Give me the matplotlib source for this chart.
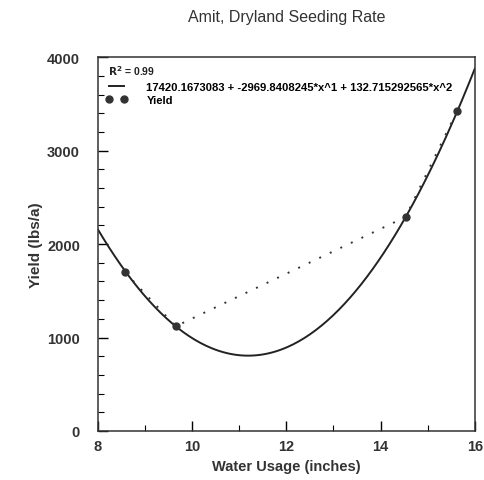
import matplotlib.pyplot as plt
import numpy as np

# water usage (inches) and yield (lbs/a)
water = [8.57, 9.65, 14.53, 15.62]
yield_lbs = [1700, 1120, 2290, 3420]

# quadratic fit coefficients: c0 + c1*x + c2*x^2
c0 = 17420.1673083
c1 = -2969.8408245
c2 = 132.715292565
r2 = 0.99

eq_label = "17420.1673083 + -2969.8408245*x^1 + 132.715292565*x^2"

plt.rcParams['font.family'] = ['Liberation Sans', 'DejaVu Sans']

fig = plt.figure(figsize=(4.85, 4.81), dpi=100)
ax = fig.add_axes([0.202, 0.102, 0.777, 0.777])

xs = np.linspace(8, 16, 200)
fit = c0 + c1 * xs + c2 * xs ** 2
ln_fit, = ax.plot(xs, fit, color='#222222', lw=1.4, label=eq_label)
ln_pts, = ax.plot(water, yield_lbs, linestyle=(0, (1, 5)), color='#333333', lw=1.4,
                  marker='o', markersize=5, markerfacecolor='#333333',
                  markeredgecolor='#333333', label='Yield')

ax.set_xlim(8, 16)
ax.set_ylim(0, 4000)
ax.set_xticks([8, 10, 12, 14, 16])
ax.set_xticks([9, 11, 13, 15], minor=True)
ax.set_yticks([0, 1000, 2000, 3000, 4000])
ax.set_yticks(np.arange(0, 4001, 200), minor=True)
ax.tick_params(axis='both', which='major', direction='in', length=7, width=1,
               labelsize=10.5)
ax.tick_params(axis='y', which='major', pad=13)
ax.tick_params(axis='x', which='major', pad=6)
ax.tick_params(axis='both', which='minor', direction='in', length=4, width=0.8)
for lbl in ax.get_xticklabels() + ax.get_yticklabels():
    lbl.set_fontweight('bold')
    lbl.set_color('#333333')
for sp in ax.spines.values():
    sp.set_color('#333333')
    sp.set_linewidth(1.1)

ax.set_xlabel('Water Usage (inches)', fontsize=10.5, fontweight='bold',
              color='#333333', labelpad=4)
ax.set_ylabel('Yield (lbs/a)', fontsize=11, fontweight='bold',
              color='#333333', labelpad=3)
ax.set_title('Amit, Dryland Seeding Rate', fontsize=11.5, color='#333333', pad=26)

# R^2 line sits above the legend entries
ax.text(0.027, 0.985, '$\\mathbf{R^2}$ = %.2f' % r2, transform=ax.transAxes,
        fontsize=7.5, fontweight='bold', va='top', ha='left', color='#222222')
leg = ax.legend(handles=[ln_fit, ln_pts], loc='upper left',
                bbox_to_anchor=(0.0, 0.955), frameon=False, numpoints=2,
                prop={'size': 8.1, 'weight': 'bold'},
                handlelength=1.9, handletextpad=1.7, labelspacing=0.25,
                borderaxespad=0.3)

fig.savefig('out.png', dpi=100)
